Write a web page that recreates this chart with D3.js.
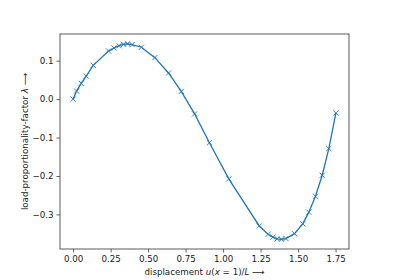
<!DOCTYPE html>
<html>
<head>
<meta charset="utf-8">
<script src="https://cdn.jsdelivr.net/npm/d3@7"></script>
<style>
	body { margin: 0; background: #fff; }
	text { font-family: "DejaVu Sans", sans-serif; }
</style>
</head>
<body>
<script>
	// данные
	const displacement = [0.000, 0.023, 0.054, 0.087, 0.134, 0.236, 0.273, 0.306, 0.336, 0.363,
		0.393, 0.455, 0.545, 0.636, 0.721, 0.810, 0.909, 1.038, 1.241, 1.300,
		1.332, 1.361, 1.389, 1.419, 1.476, 1.531, 1.572, 1.616, 1.661, 1.705, 1.752];
	const loadFactor = [0.000, 0.021, 0.041, 0.060, 0.088, 0.125, 0.133, 0.139, 0.1426, 0.144,
		0.142, 0.135, 0.108, 0.068, 0.020, -0.0385, -0.1136, -0.2075, -0.330, -0.3516,
		-0.3589, -0.3635, -0.3645, -0.3627, -0.350, -0.3244, -0.294, -0.2527, -0.198, -0.1286, -0.0362];
	const xTicks = [0, 0.25, 0.5, 0.75, 1.0, 1.25, 1.5, 1.75];
	const yTicks = [-0.3, -0.2, -0.1, 0.0, 0.1];

	const w = 400,
		h = 280,
		margin = { left: 60, right: 51, top: 34, bottom: 31 };

	const data = displacement.map((d, i) => ({ x: d, y: loadFactor[i] }));

	// отступы как в matplotlib (5%)
	const pad = (lo, hi) => [lo - 0.05 * (hi - lo), hi + 0.05 * (hi - lo)];

	const xScale = d3
			.scaleLinear()
			.domain(pad(d3.min(displacement), d3.max(displacement)))
			.range([margin.left, w - margin.right]),

		yScale = d3
			.scaleLinear()
			.domain(pad(d3.min(loadFactor), d3.max(loadFactor)))
			.range([h - margin.bottom, margin.top]),

		svg = d3
			.select("body")
			.append("svg")
			.attr("width", w)
			.attr("height", h);

	// оси
	const xAxis = svg
		.append("g")
		.attr("transform", `translate(0,${h - margin.bottom})`)
		.call(d3.axisBottom(xScale).tickValues(xTicks).tickFormat(d3.format(".2f")).tickSize(3.5).tickPadding(3));

	const yAxis = svg
		.append("g")
		.attr("transform", `translate(${margin.left},0)`)
		.call(d3.axisLeft(yScale).tickValues(yTicks).tickFormat(d => d3.format(".1f")(d).replace("-", "\u2212")).tickSize(3.5).tickPadding(3));

	[xAxis, yAxis].forEach(g => {
		g.select(".domain").remove();
		g.selectAll("line").attr("stroke", "#222").attr("stroke-width", 0.7);
		g.selectAll("text").attr("font-size", "8.7px").attr("fill", "#222").attr("font-family", "DejaVu Sans");
	});

	// рамка
	svg
		.append("rect")
		.attr("x", margin.left)
		.attr("y", margin.top)
		.attr("width", w - margin.left - margin.right)
		.attr("height", h - margin.top - margin.bottom)
		.attr("fill", "none")
		.attr("stroke", "#333")
		.attr("stroke-width", 0.8);

	// линия
	const line = d3
		.line()
		.x(d => xScale(d.x))
		.y(d => yScale(d.y));

	svg
		.append("path")
		.datum(data)
		.attr("d", line)
		.attr("fill", "none")
		.attr("stroke", "#1f77b4")
		.attr("stroke-width", 1.3);

	// маркеры x
	const m = 2.6;
	svg
		.selectAll(".marker")
		.data(data)
		.enter()
		.append("path")
		.attr("class", "marker")
		.attr("d", d => {
			const cx = xScale(d.x),
				cy = yScale(d.y);
			return `M${cx - m},${cy - m}L${cx + m},${cy + m}M${cx - m},${cy + m}L${cx + m},${cy - m}`;
		})
		.attr("stroke", "#1f77b4")
		.attr("stroke-width", 0.9)
		.attr("fill", "none");

	// подписи осей
	const xLabel = svg
		.append("text")
		.attr("x", (margin.left + w - margin.right) / 2)
		.attr("y", h - 5)
		.attr("text-anchor", "middle")
		.attr("font-size", "8.7px")
		.attr("fill", "#222");
	xLabel.append("tspan").text("displacement ");
	xLabel.append("tspan").attr("font-style", "italic").text("u");
	xLabel.append("tspan").text("(");
	xLabel.append("tspan").attr("font-style", "italic").text("x");
	xLabel.append("tspan").text(" = 1)/");
	xLabel.append("tspan").attr("font-style", "italic").text("L");
	xLabel.append("tspan").text("  \u27F6");

	const yLabel = svg
		.append("text")
		.attr("transform", `translate(27.5,${(margin.top + h - margin.bottom) / 2}) rotate(-90)`)
		.attr("text-anchor", "middle")
		.attr("font-size", "8.7px")
		.attr("fill", "#222");
	yLabel.append("tspan").text("load-proportionality-factor ");
	yLabel.append("tspan").attr("font-style", "italic").text("\u03BB");
	yLabel.append("tspan").text("  \u27F6");
</script>
</body>
</html>
